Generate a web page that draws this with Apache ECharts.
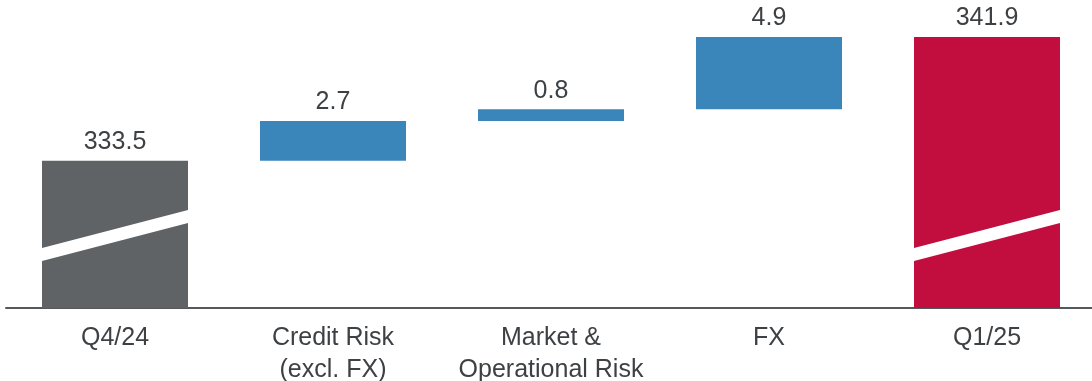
<!DOCTYPE html>
<html>
<head>
<meta charset="utf-8">
<script src="https://cdn.jsdelivr.net/npm/echarts@6/dist/echarts.min.js"></script>
<style>
  html, body { margin: 0; padding: 0; background: #ffffff; }
  #chart { width: 1092px; height: 381px; }
</style>
</head>
<body>
<div id="chart"></div>
<script>
// Risk-weighted assets bridge, Q4/24 to Q1/25
const categories = ['Q4/24', 'Credit Risk\n(excl. FX)', 'Market &\nOperational Risk', 'FX', 'Q1/25'];
const startTotal = 333.5;
const changes = [2.7, 0.8, 4.9];
const endTotal = 341.9;

const axisMin = 323.5;
const axisMax = 341.9;

const TOTAL_GREY = '#5f6366';
const TOTAL_RED = '#c20e3e';
const STEP_BLUE = '#3a86bb';
const TEXT = '#3e4144';
const FONT = '"Liberation Sans", Arial, sans-serif';

// invisible base for each floating step, and visible bar values
const baseValues = [];
const barValues = [];
baseValues.push(0);
barValues.push({ value: startTotal, itemStyle: { color: TOTAL_GREY } });
let running = startTotal;
changes.forEach(function (c) {
  baseValues.push(running);
  barValues.push({ value: c, itemStyle: { color: STEP_BLUE } });
  running += c;
});
baseValues.push(0);
barValues.push({ value: endTotal, itemStyle: { color: TOTAL_RED } });

const totalIndices = [0, categories.length - 1];
const BAR_WIDTH = 146;

const chart = echarts.init(document.getElementById('chart'), null, { renderer: 'canvas' });

chart.setOption({
  animation: false,
  backgroundColor: '#ffffff',
  grid: {
    left: 6, width: 1090, top: 37, bottom: 73,
    containLabel: false,
    outerBoundsMode: 'none'
  },
  xAxis: {
    type: 'category',
    data: categories,
    axisLine: { show: true, lineStyle: { color: '#56595c', width: 2 } },
    axisTick: { show: false },
    splitLine: { show: false },
    axisLabel: {
      interval: 0,
      margin: 14,
      color: TEXT,
      fontFamily: FONT,
      fontSize: 25,
      lineHeight: 32
    }
  },
  yAxis: {
    type: 'value',
    min: axisMin,
    max: axisMax,
    show: false,
    splitLine: { show: false }
  },
  series: [
    {
      type: 'bar',
      stack: 'bridge',
      data: baseValues,
      barWidth: BAR_WIDTH,
      itemStyle: { color: 'transparent' },
      silent: true
    },
    {
      type: 'bar',
      stack: 'bridge',
      data: barValues,
      barWidth: BAR_WIDTH,
      label: {
        show: true,
        position: 'top',
        distance: 6,
        color: TEXT,
        fontFamily: FONT,
        fontSize: 25,
        formatter: function (p) { return p.value.toFixed(1); }
      }
    },
    {
      // white diagonal break band across the truncated total bars
      type: 'custom',
      data: totalIndices,
      z: 5,
      silent: true,
      renderItem: function (params, api) {
        const idx = api.value(0);
        const base = api.coord([idx, axisMin]);
        const half = BAR_WIDTH / 2;
        const x0 = base[0] - half;
        const x1 = base[0] + half;
        const yl = base[1] - 53.5;
        const yr = base[1] - 91.5;
        const h = 6.5;
        return {
          type: 'polygon',
          shape: {
            points: [[x0, yl - h], [x1, yr - h], [x1, yr + h], [x0, yl + h]]
          },
          style: { fill: '#ffffff' }
        };
      },
      encode: { x: 0, y: 0 }
    }
  ]
});
</script>
</body>
</html>
